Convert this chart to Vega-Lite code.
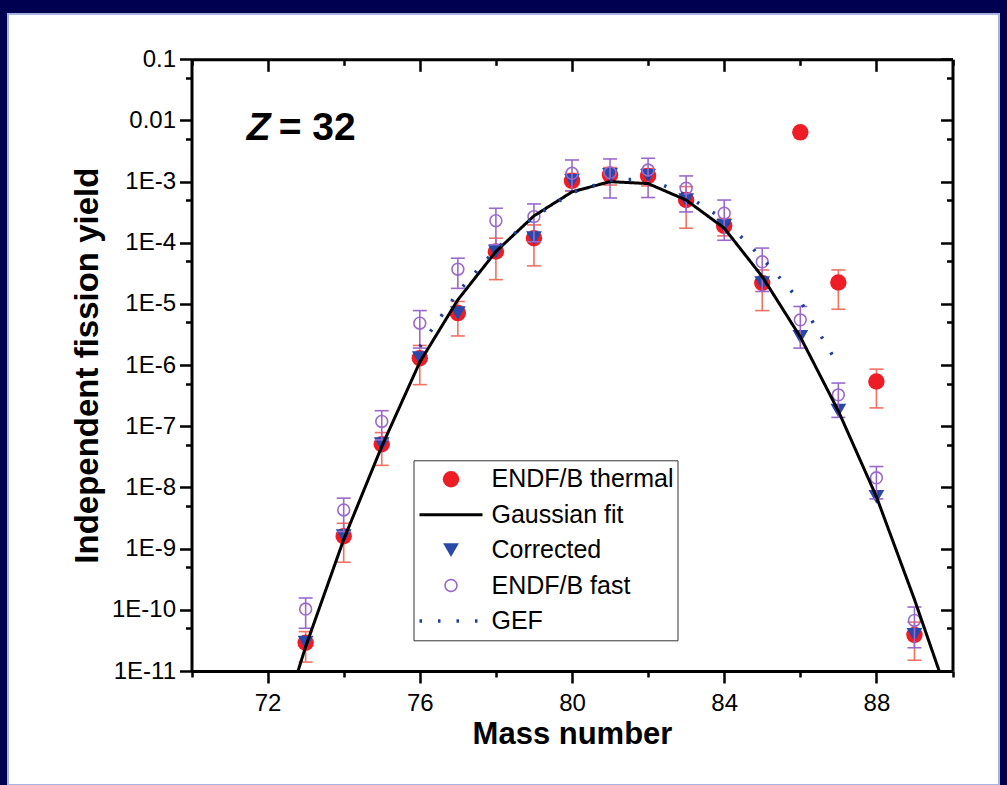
{
  "$schema": "https://vega.github.io/schema/vega-lite/v6.json",
  "width": 991,
  "height": 771,
  "autosize": {"type": "none"},
  "padding": {"left": 8, "top": 14, "right": 8, "bottom": 0},
  "background": "#000050",
  "config": {
    "view": {"fill": "white", "stroke": "#a8b4e0", "strokeWidth": 2},
    "font": "Liberation Sans",
    "axis": {"grid": false, "domainColor": "black", "domainWidth": 3, "tickColor": "black", "tickWidth": 2.5, "labelColor": "black", "labelFont": "Liberation Sans", "labelFontSize": 24, "titleColor": "black", "titleFont": "Liberation Sans", "titleFontWeight": "bold", "labelOverlap": false, "labelFlush": false},
    "legend": {"orient": "none", "legendX": 405.5, "legendY": 446.3, "strokeColor": "#333333", "padding": 4, "clipHeight": 30, "rowPadding": 5.4, "labelOffset": 7, "labelLimit": 400, "labelFont": "Liberation Sans", "labelFontSize": 25, "labelColor": "black", "symbolOpacity": 1}
  },
  "datasets": {
    "pts": [
      {"A": 73, "series": "ENDF/B thermal", "v": 2.9e-11, "lo": 1.4e-11, "hi": 4.4e-11},
      {"A": 74, "series": "ENDF/B thermal", "v": 1.6e-9, "lo": 6.0e-10, "hi": 2.6e-9},
      {"A": 75, "series": "ENDF/B thermal", "v": 5.1e-8, "lo": 2.3e-8, "hi": 7.9e-8},
      {"A": 76, "series": "ENDF/B thermal", "v": 1.3e-6, "lo": 4.8e-7, "hi": 2.1e-6},
      {"A": 77, "series": "ENDF/B thermal", "v": 7.1e-6, "lo": 3.0e-6, "hi": 1.1e-5},
      {"A": 78, "series": "ENDF/B thermal", "v": 7.2e-5, "lo": 2.5e-5, "hi": 1.19e-4},
      {"A": 79, "series": "ENDF/B thermal", "v": 1.19e-4, "lo": 4.2e-5, "hi": 1.96e-4},
      {"A": 80, "series": "ENDF/B thermal", "v": 1.03e-3, "lo": 7.0e-4, "hi": 1.36e-3},
      {"A": 81, "series": "ENDF/B thermal", "v": 1.29e-3, "lo": 8.8e-4, "hi": 1.7e-3},
      {"A": 82, "series": "ENDF/B thermal", "v": 1.24e-3, "lo": 8.5e-4, "hi": 1.63e-3},
      {"A": 83, "series": "ENDF/B thermal", "v": 5.0e-4, "lo": 1.73e-4, "hi": 8.3e-4},
      {"A": 84, "series": "ENDF/B thermal", "v": 1.89e-4, "lo": 1.3e-4, "hi": 2.5e-4},
      {"A": 85, "series": "ENDF/B thermal", "v": 2.2e-5, "lo": 7.8e-6, "hi": 3.6e-5},
      {"A": 86, "series": "ENDF/B thermal", "v": 6.4e-3, "lo": null, "hi": null},
      {"A": 87, "series": "ENDF/B thermal", "v": 2.24e-5, "lo": 8.2e-6, "hi": 3.6e-5},
      {"A": 88, "series": "ENDF/B thermal", "v": 5.4e-7, "lo": 2.0e-7, "hi": 8.6e-7},
      {"A": 89, "series": "ENDF/B thermal", "v": 3.9e-11, "lo": 1.5e-11, "hi": 6.3e-11},
      {"A": 73, "series": "Corrected", "v": 2.9e-11},
      {"A": 74, "series": "Corrected", "v": 1.6e-9},
      {"A": 75, "series": "Corrected", "v": 5.1e-8},
      {"A": 76, "series": "Corrected", "v": 1.3e-6},
      {"A": 77, "series": "Corrected", "v": 7.1e-6},
      {"A": 78, "series": "Corrected", "v": 7.2e-5},
      {"A": 79, "series": "Corrected", "v": 1.19e-4},
      {"A": 80, "series": "Corrected", "v": 1.03e-3},
      {"A": 81, "series": "Corrected", "v": 1.29e-3},
      {"A": 82, "series": "Corrected", "v": 1.24e-3},
      {"A": 83, "series": "Corrected", "v": 5.0e-4},
      {"A": 84, "series": "Corrected", "v": 1.89e-4},
      {"A": 85, "series": "Corrected", "v": 2.2e-5},
      {"A": 86, "series": "Corrected", "v": 2.9e-6},
      {"A": 87, "series": "Corrected", "v": 1.8e-7},
      {"A": 88, "series": "Corrected", "v": 7.0e-9},
      {"A": 89, "series": "Corrected", "v": 3.9e-11},
      {"A": 73, "series": "ENDF/B fast", "v": 1.03e-10, "lo": 5.0e-11, "hi": 1.56e-10},
      {"A": 74, "series": "ENDF/B fast", "v": 4.3e-9, "lo": 1.9e-9, "hi": 6.7e-9},
      {"A": 75, "series": "ENDF/B fast", "v": 1.2e-7, "lo": 6.0e-8, "hi": 1.8e-7},
      {"A": 76, "series": "ENDF/B fast", "v": 4.85e-6, "lo": 1.9e-6, "hi": 7.8e-6},
      {"A": 77, "series": "ENDF/B fast", "v": 3.7e-5, "lo": 1.8e-5, "hi": 5.6e-5},
      {"A": 78, "series": "ENDF/B fast", "v": 2.3e-4, "lo": 9.3e-5, "hi": 3.67e-4},
      {"A": 79, "series": "ENDF/B fast", "v": 2.68e-4, "lo": 1.04e-4, "hi": 4.32e-4},
      {"A": 80, "series": "ENDF/B fast", "v": 1.37e-3, "lo": 7.1e-4, "hi": 2.26e-3},
      {"A": 81, "series": "ENDF/B fast", "v": 1.4e-3, "lo": 5.4e-4, "hi": 2.35e-3},
      {"A": 82, "series": "ENDF/B fast", "v": 1.55e-3, "lo": 5.5e-4, "hi": 2.41e-3},
      {"A": 83, "series": "ENDF/B fast", "v": 7.8e-4, "lo": 3.2e-4, "hi": 1.24e-3},
      {"A": 84, "series": "ENDF/B fast", "v": 3.05e-4, "lo": 1.1e-4, "hi": 5.0e-4},
      {"A": 85, "series": "ENDF/B fast", "v": 4.9e-5, "lo": 1.6e-5, "hi": 8.2e-5},
      {"A": 86, "series": "ENDF/B fast", "v": 5.5e-6, "lo": 1.9e-6, "hi": 9.1e-6},
      {"A": 87, "series": "ENDF/B fast", "v": 3.27e-7, "lo": 1.4e-7, "hi": 5.1e-7},
      {"A": 88, "series": "ENDF/B fast", "v": 1.44e-8, "lo": 6.5e-9, "hi": 2.2e-8},
      {"A": 89, "series": "ENDF/B fast", "v": 6.7e-11, "lo": 2.4e-11, "hi": 1.11e-10}
    ],
    "lines": [
      {"A": 72.8, "series": "Gaussian fit", "v": 1e-11},
      {"A": 73, "series": "Gaussian fit", "v": 2.5e-11},
      {"A": 74, "series": "Gaussian fit", "v": 1.41e-9},
      {"A": 75, "series": "Gaussian fit", "v": 4.68e-8},
      {"A": 76, "series": "Gaussian fit", "v": 1.12e-6},
      {"A": 77, "series": "Gaussian fit", "v": 1.17e-5},
      {"A": 78, "series": "Gaussian fit", "v": 7.2e-5},
      {"A": 79, "series": "Gaussian fit", "v": 2.75e-4},
      {"A": 80, "series": "Gaussian fit", "v": 6.8e-4},
      {"A": 81, "series": "Gaussian fit", "v": 1.0e-3},
      {"A": 82, "series": "Gaussian fit", "v": 9.3e-4},
      {"A": 83, "series": "Gaussian fit", "v": 5.0e-4},
      {"A": 84, "series": "Gaussian fit", "v": 1.74e-4},
      {"A": 85, "series": "Gaussian fit", "v": 2.8e-5},
      {"A": 86, "series": "Gaussian fit", "v": 2.9e-6},
      {"A": 87, "series": "Gaussian fit", "v": 1.78e-7},
      {"A": 88, "series": "Gaussian fit", "v": 7.1e-9},
      {"A": 89, "series": "Gaussian fit", "v": 1.48e-10},
      {"A": 89.65, "series": "Gaussian fit", "v": 1e-11},
      {"A": 76, "series": "GEF", "v": 2.0e-6},
      {"A": 77, "series": "GEF", "v": 1.55e-5},
      {"A": 78, "series": "GEF", "v": 7.9e-5},
      {"A": 79, "series": "GEF", "v": 2.63e-4},
      {"A": 80, "series": "GEF", "v": 6.6e-4},
      {"A": 81, "series": "GEF", "v": 1.05e-3},
      {"A": 82, "series": "GEF", "v": 1.12e-3},
      {"A": 83, "series": "GEF", "v": 6.0e-4},
      {"A": 84, "series": "GEF", "v": 2.4e-4},
      {"A": 85, "series": "GEF", "v": 5.6e-5},
      {"A": 86, "series": "GEF", "v": 1.12e-5},
      {"A": 87, "series": "GEF", "v": 1.0e-6}
    ]
  },
  "resolve": {"axis": {"x": "independent", "y": "independent"}},
  "layer": [
    {
      "data": {"name": "pts"},
      "transform": [{"filter": "datum.series === 'ENDF/B thermal' && isValid(datum.lo)"}],
      "mark": {"type": "rule", "color": "#f27262", "strokeWidth": 1.6},
      "encoding": {
        "x": {"field": "A", "type": "quantitative", "scale": {"domain": [70, 90], "range": [183.5, 944.5], "nice": false, "zero": false}, "axis": null},
        "y": {"field": "lo", "type": "quantitative", "scale": {"type": "log", "domain": [1e-11, 0.1], "range": [657, 45.3], "nice": false}, "axis": null},
        "y2": {"field": "hi"}
      }
    },
    {
      "data": {"name": "pts"},
      "transform": [{"filter": "datum.series === 'ENDF/B thermal' && isValid(datum.lo)"}, {"fold": ["lo", "hi"], "as": ["end", "ev"]}],
      "mark": {"type": "tick", "orient": "horizontal", "color": "#f27262", "size": 14, "thickness": 1.6, "opacity": 1},
      "encoding": {
        "x": {"field": "A", "type": "quantitative", "scale": {"domain": [70, 90], "range": [183.5, 944.5], "nice": false, "zero": false}, "axis": null},
        "y": {"field": "ev", "type": "quantitative", "scale": {"type": "log", "domain": [1e-11, 0.1], "range": [657, 45.3], "nice": false}, "axis": null}
      }
    },
    {
      "data": {"name": "pts"},
      "transform": [{"filter": "datum.series === 'ENDF/B thermal'"}],
      "mark": {"type": "point", "filled": true, "opacity": 1},
      "encoding": {
        "x": {"field": "A", "type": "quantitative", "scale": {"domain": [70, 90], "range": [183.5, 944.5], "nice": false, "zero": false},
          "axis": {"orient": "bottom", "offset": -114, "values": [70, 72, 74, 76, 78, 80, 82, 84, 86, 88, 90],
            "tickSize": {"condition": {"test": "datum.value % 4 == 0", "value": 12}, "value": 6},
            "labelExpr": "datum.value % 4 == 0 ? datum.label : ''", "labelPadding": 8,
            "title": "Mass number", "titleFontSize": 31, "titlePadding": 4}},
        "y": {"field": "v", "type": "quantitative", "scale": {"type": "log", "domain": [1e-11, 0.1], "range": [657, 45.3], "nice": false},
          "axis": {"orient": "left", "offset": -183.5,
            "values": [1e-11, 5e-11, 1e-10, 5e-10, 1e-9, 5e-9, 1e-8, 5e-8, 1e-7, 5e-7, 1e-6, 5e-6, 1e-5, 5e-5, 1e-4, 5e-4, 1e-3, 5e-3, 0.01, 0.05, 0.1],
            "tickSize": {"condition": {"test": "abs(log(datum.value)/LN10 - round(log(datum.value)/LN10)) < 0.01", "value": 12}, "value": 6},
            "labelExpr": "abs(log(datum.value)/LN10 - round(log(datum.value)/LN10)) > 0.01 ? '' : (datum.value > 0.05 ? '0.1' : (datum.value > 0.005 ? '0.01' : '1E-' + round(-log(datum.value)/LN10)))",
            "labelPadding": 4,
            "title": "Independent fission yield", "titleFontSize": 33, "titlePadding": 7}},
        "fill": {"field": "series", "type": "nominal", "legend": {"title": null}, "scale": {"domain": ["ENDF/B thermal", "Gaussian fit", "Corrected", "ENDF/B fast", "GEF"], "range": ["#ee1c24", "transparent", "#2a48a8", "transparent", "transparent"]}},
        "stroke": {"field": "series", "type": "nominal", "legend": {"title": null}, "scale": {"domain": ["ENDF/B thermal", "Gaussian fit", "Corrected", "ENDF/B fast", "GEF"], "range": ["transparent", "#000000", "transparent", "#9a6acb", "#1f3f9c"]}},
        "shape": {"field": "series", "type": "nominal", "legend": {"title": null}, "scale": {"domain": ["ENDF/B thermal", "Gaussian fit", "Corrected", "ENDF/B fast", "GEF"], "range": ["circle", "stroke", "triangle-down", "circle", "stroke"]}},
        "size": {"field": "series", "type": "nominal", "legend": {"title": null}, "scale": {"type": "ordinal", "domain": ["ENDF/B thermal", "Gaussian fit", "Corrected", "ENDF/B fast", "GEF"], "range": [270, 3969, 250, 140, 3969]}}
      }
    },
    {
      "data": {"name": "pts"},
      "transform": [{"filter": "datum.series === 'Corrected'"}],
      "mark": {"type": "point", "filled": true, "opacity": 1},
      "encoding": {
        "x": {"field": "A", "type": "quantitative", "scale": {"domain": [70, 90], "range": [183.5, 944.5], "nice": false, "zero": false}, "axis": null},
        "y": {"field": "v", "type": "quantitative", "scale": {"type": "log", "domain": [1e-11, 0.1], "range": [657, 45.3], "nice": false}, "axis": null},
        "fill": {"field": "series", "type": "nominal", "legend": {"title": null}, "scale": {"domain": ["ENDF/B thermal", "Gaussian fit", "Corrected", "ENDF/B fast", "GEF"], "range": ["#ee1c24", "transparent", "#2a48a8", "transparent", "transparent"]}},
        "stroke": {"field": "series", "type": "nominal", "legend": {"title": null}, "scale": {"domain": ["ENDF/B thermal", "Gaussian fit", "Corrected", "ENDF/B fast", "GEF"], "range": ["transparent", "#000000", "transparent", "#9a6acb", "#1f3f9c"]}},
        "shape": {"field": "series", "type": "nominal", "legend": {"title": null}, "scale": {"domain": ["ENDF/B thermal", "Gaussian fit", "Corrected", "ENDF/B fast", "GEF"], "range": ["circle", "stroke", "triangle-down", "circle", "stroke"]}},
        "size": {"field": "series", "type": "nominal", "legend": {"title": null}, "scale": {"type": "ordinal", "domain": ["ENDF/B thermal", "Gaussian fit", "Corrected", "ENDF/B fast", "GEF"], "range": [270, 3969, 250, 140, 3969]}}
      }
    },
    {
      "data": {"name": "pts"},
      "transform": [{"filter": "datum.series === 'ENDF/B fast'"}],
      "mark": {"type": "rule", "color": "#9a6acb", "strokeWidth": 1.6},
      "encoding": {
        "x": {"field": "A", "type": "quantitative", "scale": {"domain": [70, 90], "range": [183.5, 944.5], "nice": false, "zero": false}, "axis": null},
        "y": {"field": "lo", "type": "quantitative", "scale": {"type": "log", "domain": [1e-11, 0.1], "range": [657, 45.3], "nice": false}, "axis": null},
        "y2": {"field": "hi"}
      }
    },
    {
      "data": {"name": "pts"},
      "transform": [{"filter": "datum.series === 'ENDF/B fast'"}, {"fold": ["lo", "hi"], "as": ["end", "ev"]}],
      "mark": {"type": "tick", "orient": "horizontal", "color": "#9a6acb", "size": 14, "thickness": 1.6, "opacity": 1},
      "encoding": {
        "x": {"field": "A", "type": "quantitative", "scale": {"domain": [70, 90], "range": [183.5, 944.5], "nice": false, "zero": false}, "axis": null},
        "y": {"field": "ev", "type": "quantitative", "scale": {"type": "log", "domain": [1e-11, 0.1], "range": [657, 45.3], "nice": false}, "axis": null}
      }
    },
    {
      "data": {"name": "pts"},
      "transform": [{"filter": "datum.series === 'ENDF/B fast'"}],
      "mark": {"type": "point", "filled": false, "opacity": 1},
      "encoding": {
        "x": {"field": "A", "type": "quantitative", "scale": {"domain": [70, 90], "range": [183.5, 944.5], "nice": false, "zero": false}, "axis": null},
        "y": {"field": "v", "type": "quantitative", "scale": {"type": "log", "domain": [1e-11, 0.1], "range": [657, 45.3], "nice": false}, "axis": null},
        "fill": {"field": "series", "type": "nominal", "legend": {"title": null}, "scale": {"domain": ["ENDF/B thermal", "Gaussian fit", "Corrected", "ENDF/B fast", "GEF"], "range": ["#ee1c24", "transparent", "#2a48a8", "transparent", "transparent"]}},
        "stroke": {"field": "series", "type": "nominal", "legend": {"title": null}, "scale": {"domain": ["ENDF/B thermal", "Gaussian fit", "Corrected", "ENDF/B fast", "GEF"], "range": ["transparent", "#000000", "transparent", "#9a6acb", "#1f3f9c"]}},
        "shape": {"field": "series", "type": "nominal", "legend": {"title": null}, "scale": {"domain": ["ENDF/B thermal", "Gaussian fit", "Corrected", "ENDF/B fast", "GEF"], "range": ["circle", "stroke", "triangle-down", "circle", "stroke"]}},
        "size": {"field": "series", "type": "nominal", "legend": {"title": null}, "scale": {"type": "ordinal", "domain": ["ENDF/B thermal", "Gaussian fit", "Corrected", "ENDF/B fast", "GEF"], "range": [270, 3969, 250, 140, 3969]}},
        "strokeWidth": {"field": "series", "type": "nominal", "legend": {"title": null}, "scale": {"type": "ordinal", "domain": ["ENDF/B thermal", "Gaussian fit", "Corrected", "ENDF/B fast", "GEF"], "range": [1.6, 3, 1.6, 1.6, 3.5]}}
      }
    },
    {
      "data": {"name": "lines"},
      "transform": [{"filter": "datum.series === 'Gaussian fit'"}],
      "mark": {"type": "line"},
      "encoding": {
        "x": {"field": "A", "type": "quantitative", "scale": {"domain": [70, 90], "range": [183.5, 944.5], "nice": false, "zero": false},
          "axis": {"orient": "top", "offset": -45.3, "values": [70, 72, 74, 76, 78, 80, 82, 84, 86, 88, 90], "labels": false, "title": null,
            "tickSize": {"condition": {"test": "datum.value % 4 == 0", "value": -12}, "value": -6}}},
        "y": {"field": "v", "type": "quantitative", "scale": {"type": "log", "domain": [1e-11, 0.1], "range": [657, 45.3], "nice": false},
          "axis": {"orient": "right", "offset": -46.5, "labels": false, "title": null,
            "values": [1e-11, 5e-11, 1e-10, 5e-10, 1e-9, 5e-9, 1e-8, 5e-8, 1e-7, 5e-7, 1e-6, 5e-6, 1e-5, 5e-5, 1e-4, 5e-4, 1e-3, 5e-3, 0.01, 0.05, 0.1],
            "tickSize": {"condition": {"test": "abs(log(datum.value)/LN10 - round(log(datum.value)/LN10)) < 0.01", "value": -12}, "value": -6}}},
        "stroke": {"field": "series", "type": "nominal", "legend": {"title": null}, "scale": {"domain": ["ENDF/B thermal", "Gaussian fit", "Corrected", "ENDF/B fast", "GEF"], "range": ["transparent", "#000000", "transparent", "#9a6acb", "#1f3f9c"]}},
        "strokeWidth": {"field": "series", "type": "nominal", "legend": {"title": null}, "scale": {"type": "ordinal", "domain": ["ENDF/B thermal", "Gaussian fit", "Corrected", "ENDF/B fast", "GEF"], "range": [1.6, 3, 1.6, 1.6, 3.5]}},
        "strokeDash": {"field": "series", "type": "nominal", "legend": {"title": null}, "scale": {"domain": ["ENDF/B thermal", "Gaussian fit", "Corrected", "ENDF/B fast", "GEF"], "range": [[1, 0], [1, 0], [1, 0], [1, 0], [2.5, 16]]}}
      }
    },
    {
      "data": {"name": "lines"},
      "transform": [{"filter": "datum.series === 'GEF'"}],
      "mark": {"type": "line"},
      "encoding": {
        "x": {"field": "A", "type": "quantitative", "scale": {"domain": [70, 90], "range": [183.5, 944.5], "nice": false, "zero": false}, "axis": null},
        "y": {"field": "v", "type": "quantitative", "scale": {"type": "log", "domain": [1e-11, 0.1], "range": [657, 45.3], "nice": false}, "axis": null},
        "stroke": {"field": "series", "type": "nominal", "legend": {"title": null}, "scale": {"domain": ["ENDF/B thermal", "Gaussian fit", "Corrected", "ENDF/B fast", "GEF"], "range": ["transparent", "#000000", "transparent", "#9a6acb", "#1f3f9c"]}},
        "strokeWidth": {"field": "series", "type": "nominal", "legend": {"title": null}, "scale": {"type": "ordinal", "domain": ["ENDF/B thermal", "Gaussian fit", "Corrected", "ENDF/B fast", "GEF"], "range": [1.6, 3, 1.6, 1.6, 3.5]}},
        "strokeDash": {"field": "series", "type": "nominal", "legend": {"title": null}, "scale": {"domain": ["ENDF/B thermal", "Gaussian fit", "Corrected", "ENDF/B fast", "GEF"], "range": [[1, 0], [1, 0], [1, 0], [1, 0], [2.5, 16]]}}
      }
    },
    {
      "data": {"values": [{}]},
      "mark": {"type": "text", "text": "Z", "font": "Liberation Sans", "fontSize": 39, "fontWeight": "bold", "fontStyle": "italic", "align": "left", "baseline": "alphabetic", "color": "black"},
      "encoding": {
        "x": {"datum": 71.45, "type": "quantitative", "scale": {"domain": [70, 90], "range": [183.5, 944.5], "nice": false, "zero": false}, "axis": null},
        "y": {"datum": 0.0048, "type": "quantitative", "scale": {"type": "log", "domain": [1e-11, 0.1], "range": [657, 45.3], "nice": false}, "axis": null}
      }
    },
    {
      "data": {"values": [{}]},
      "mark": {"type": "text", "text": "= 32", "font": "Liberation Sans", "fontSize": 39, "fontWeight": "bold", "align": "left", "baseline": "alphabetic", "color": "black"},
      "encoding": {
        "x": {"datum": 72.29, "type": "quantitative", "scale": {"domain": [70, 90], "range": [183.5, 944.5], "nice": false, "zero": false}, "axis": null},
        "y": {"datum": 0.0048, "type": "quantitative", "scale": {"type": "log", "domain": [1e-11, 0.1], "range": [657, 45.3], "nice": false}, "axis": null}
      }
    }
  ]
}
